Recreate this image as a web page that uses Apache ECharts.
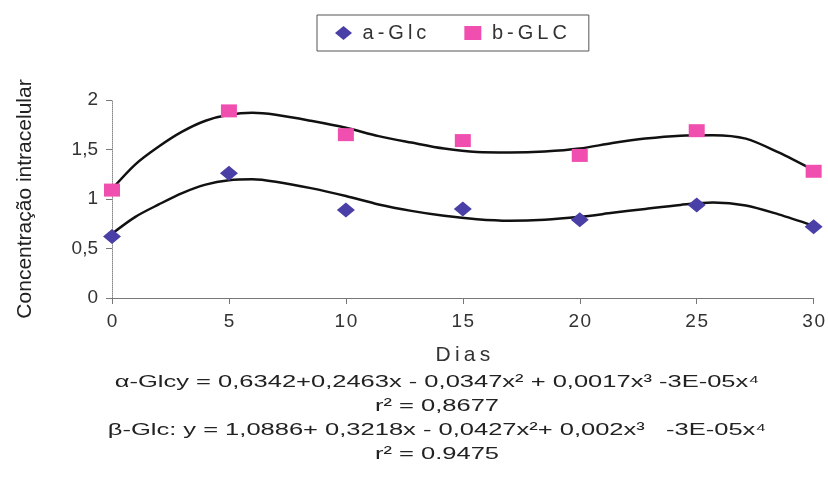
<!DOCTYPE html>
<html>
<head>
<meta charset="utf-8">
<script src="https://cdn.jsdelivr.net/npm/echarts@6/dist/echarts.min.js"></script>
<style>
  html, body { margin: 0; padding: 0; background: #fff; }
  #chart { width: 828px; height: 483px; }
</style>
</head>
<body>
<div id="chart"></div>
<script>
// dias medidos
var dias = [0, 5, 10, 15, 20, 25, 30];
// valores medidos
var alphaGlc = [0.62, 1.26, 0.89, 0.90, 0.79, 0.94, 0.72];
var betaGlc = [1.09, 1.89, 1.65, 1.59, 1.44, 1.69, 1.28];

// linha de tendencia (polinomio)
var curvaX = [0, 1, 2, 3, 4, 5, 6, 7, 8.5, 10, 11.4, 12.8, 14.2, 15.6, 17, 18.5, 20, 21.4, 22.8, 24.3, 25.7, 27.1, 28.5, 30];
var curvaAlpha = [0.65, 0.82, 0.945, 1.06, 1.145, 1.19, 1.20, 1.175, 1.11, 1.03, 0.945, 0.88, 0.83, 0.795, 0.78, 0.79, 0.82, 0.86, 0.90, 0.94, 0.965, 0.935, 0.845, 0.73];
var curvaBeta = [1.10, 1.35, 1.53, 1.68, 1.79, 1.85, 1.87, 1.85, 1.79, 1.72, 1.635, 1.57, 1.51, 1.475, 1.47, 1.48, 1.51, 1.565, 1.61, 1.64, 1.645, 1.61, 1.47, 1.29];

var yTicks = [0, 0.5, 1, 1.5, 2];

var equacoes = [
    'α-Glcy = 0,6342+0,2463x - 0,0347x² + 0,0017x³ -3E-05x⁴',
    'r² = 0,8677',
    'β-Glc: y = 1,0886+ 0,3218x - 0,0427x²+ 0,002x³   -3E-05x⁴',
    'r² = 0.9475'
];

function pares(xs, ys) {
    return xs.map(function (x, i) { return [x, ys[i]]; });
}

// texto espacado como no original
function espaco(s, sep) {
    return String(s).split('').join(sep || '\u2009');
}

var chart = echarts.init(document.getElementById('chart'));

var fonte = 'Liberation Sans, Arial, sans-serif';

option = {
    backgroundColor: '#fff',
    textStyle: { fontFamily: fonte },
    legend: {
        left: 317,
        top: 15,
        padding: [8, 22, 8, 18],
        borderColor: '#555',
        borderWidth: 1,
        itemGap: 38,
        itemWidth: 17,
        itemHeight: 14,
        formatter: function (n) { return ' ' + espaco(n); },
        textStyle: { fontSize: 20, color: '#333', fontFamily: fonte },
        data: [
            { name: 'a-Glc', icon: 'diamond' },
            { name: 'b-GLC', icon: 'rect' }
        ]
    },
    grid: {
        left: 112,
        right: 14,
        top: 100,
        bottom: 185,
        containLabel: false
    },
    xAxis: {
        type: 'value',
        min: 0,
        max: 30,
        interval: 5,
        name: espaco('Dias'),
        nameLocation: 'middle',
        nameGap: 47,
        nameTextStyle: { fontSize: 21, color: '#333' },
        axisLine: { lineStyle: { color: '#777', width: 1 } },
        axisTick: { show: true, length: 6, lineStyle: { color: '#777' } },
        axisLabel: {
            fontSize: 19,
            color: '#333',
            margin: 14,
            formatter: function (v) { return espaco(v, '\u200a'); }
        },
        splitLine: { show: false }
    },
    yAxis: {
        type: 'value',
        min: 0,
        max: 2,
        interval: 0.5,
        name: 'Concentração intracelular',
        nameLocation: 'middle',
        nameRotate: 90,
        nameGap: 76,
        nameTextStyle: { fontSize: 21, color: '#222' },
        axisLine: { show: true, lineStyle: { color: '#888', width: 1, type: 'dotted' } },
        axisTick: { show: true, length: 6, lineStyle: { color: '#777' } },
        axisLabel: {
            fontSize: 19,
            color: '#333',
            margin: 14,
            formatter: function (v) {
                return yTicks.indexOf(v) >= 0 ? String(v).replace('.', ',') : '';
            }
        },
        splitLine: { show: false }
    },
    series: [
        {
            name: 'curva a',
            type: 'line',
            smooth: 0.3,
            showSymbol: false,
            silent: true,
            lineStyle: { color: '#111', width: 2.5 },
            data: pares(curvaX, curvaAlpha),
            z: 1
        },
        {
            name: 'curva b',
            type: 'line',
            smooth: 0.3,
            showSymbol: false,
            silent: true,
            lineStyle: { color: '#111', width: 2.5 },
            data: pares(curvaX, curvaBeta),
            z: 1
        },
        {
            name: 'a-Glc',
            type: 'scatter',
            symbol: 'diamond',
            symbolSize: [18, 15],
            itemStyle: { color: '#4a3fa6', opacity: 1 },
            data: pares(dias, alphaGlc),
            z: 2
        },
        {
            name: 'b-GLC',
            type: 'scatter',
            symbol: 'rect',
            symbolSize: [16, 13],
            itemStyle: { color: '#f04fb0', opacity: 1 },
            data: pares(dias, betaGlc),
            z: 2
        }
    ],
    graphic: equacoes.map(function (t, i) {
        return {
            type: 'text',
            x: 437,
            y: 374 + i * 24,
            scaleX: 1.5,
            style: {
                text: t,
                textAlign: 'center',
                fontSize: 17,
                fontFamily: fonte,
                fill: '#222'
            }
        };
    })
};

chart.setOption(option);
</script>
</body>
</html>
